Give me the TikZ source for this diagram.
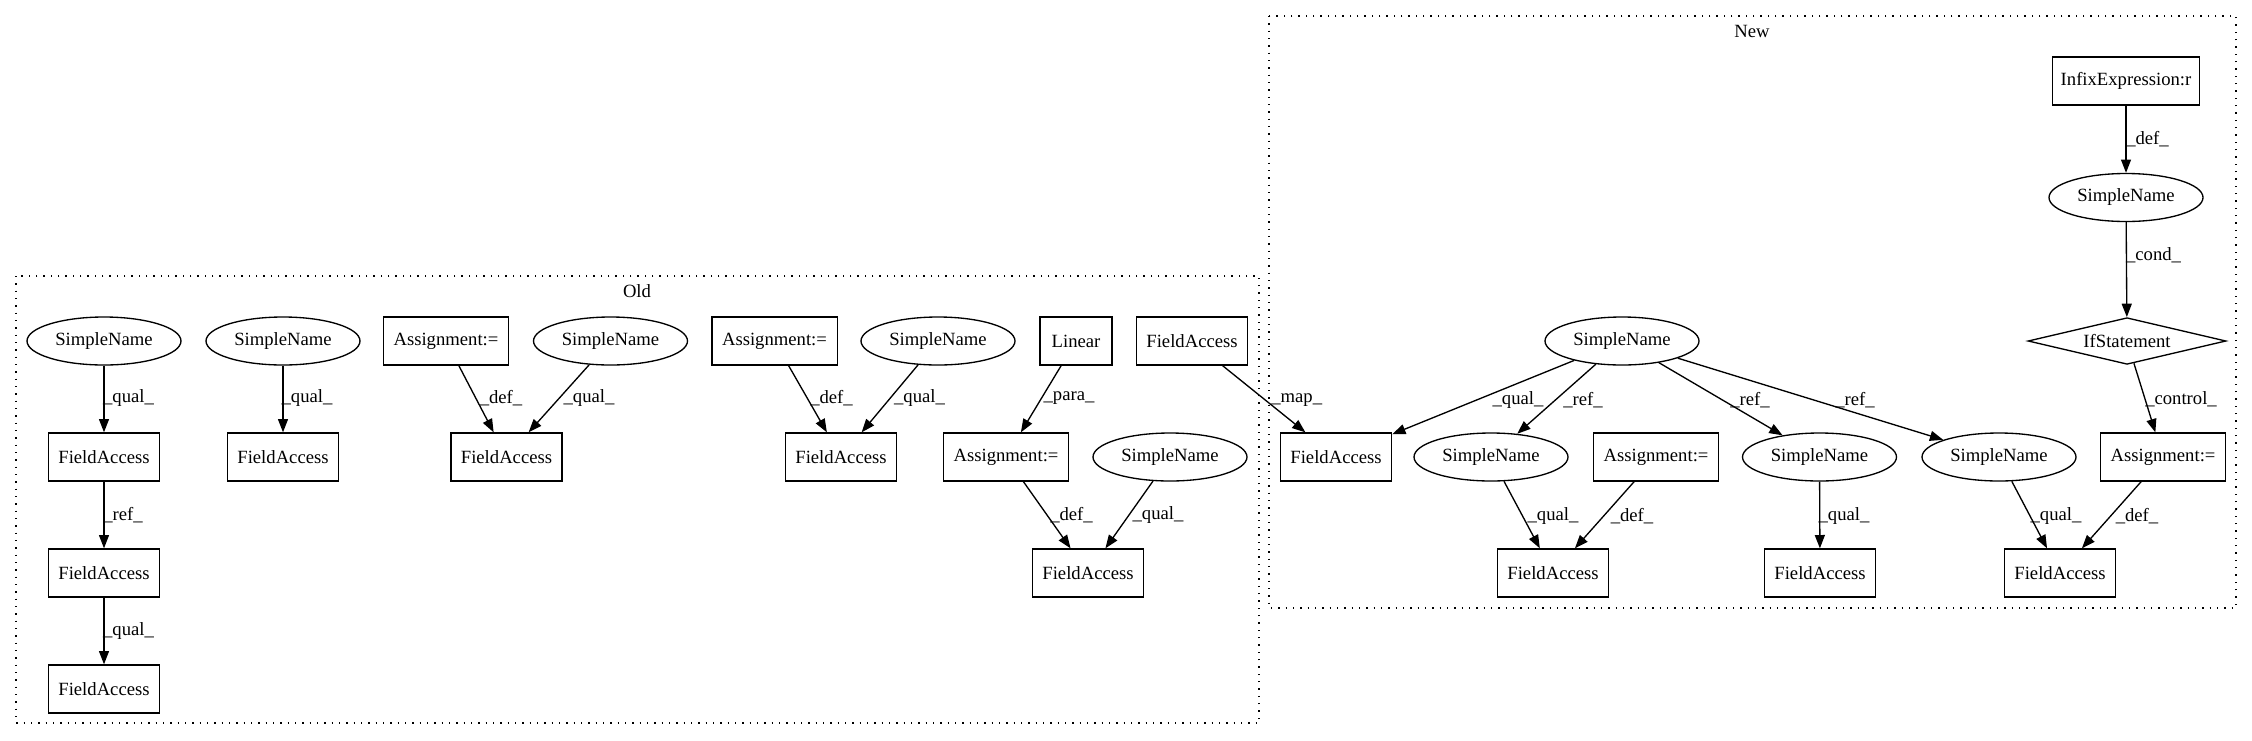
\documentclass[tikz,border=0pt]{standalone}
\usepackage{fontspec}
\setmainfont{Liberation Serif}
\usetikzlibrary{arrows.meta,shapes.geometric}
\tikzset{
  base/.style={draw, line width=1pt, inner sep=0pt, font=\fontsize{14pt}{16pt}\selectfont},
  fbox/.style={base, rectangle, minimum width=83.25pt, minimum height=36pt},
  abox/.style={base, rectangle, minimum width=94pt, minimum height=36pt},
  sname/.style={base, ellipse, minimum width=115.5pt, minimum height=36pt},
  ifdia/.style={base, diamond, aspect=5, minimum width=148.5pt, minimum height=35pt},
  edge/.style={line width=1pt, -{Triangle[length=10pt,width=7.5pt]}},
  lbl/.style={font=\fontsize{14pt}{16pt}\selectfont, inner sep=0pt},
  cluster/.style={line width=1pt, dash pattern=on 1pt off 4.5pt},
  ctitle/.style={font=\fontsize{14pt}{16pt}\selectfont, inner sep=0pt}
}
\begin{document}
\begin{tikzpicture}[x=0.75pt,y=-0.75pt]
\useasboundingbox (0,0) rectangle (2252,740);
% clusters
\draw[cluster] (16,276) rectangle (1259,723);
\node[ctitle] (toldt) at (637,291) {Old};
\draw[cluster] (1269,16) rectangle (2236,608);
\node[ctitle] (tnew) at (1752,31) {New};
% Old nodes
\node[sname] (sn1) at (104,341) {SimpleName};
\node[fbox] (fa1) at (104,457) {FieldAccess};
\node[fbox] (fa2) at (104,573) {FieldAccess};
\node[fbox] (fa3) at (104,689) {FieldAccess};
\node[sname] (sn2) at (283,341) {SimpleName};
\node[fbox] (fa4) at (283,457) {FieldAccess};
\node[abox] (as1) at (446,341) {Assignment:=};
\node[sname] (sn3) at (610.5,341) {SimpleName};
\node[fbox] (fa5) at (506.5,457) {FieldAccess};
\node[abox] (as2) at (774.5,341) {Assignment:=};
\node[sname] (sn4) at (938,341) {SimpleName};
\node[fbox] (fa7) at (841,457) {FieldAccess};
\node[base, rectangle, minimum width=54pt, minimum height=36pt] (lin) at (1076,341) {Linear};
\node[fbox] (fa6) at (1192,341) {FieldAccess};
\node[abox] (as3) at (1006,457) {Assignment:=};
\node[sname] (sn5) at (1170,457) {SimpleName};
\node[fbox] (fa8) at (1088,573) {FieldAccess};
% New nodes
\node[base, rectangle, minimum width=110pt, minimum height=36pt] (inf) at (2126,81) {InfixExpression:r};
\node[sname] (sn6) at (2126,197.5) {SimpleName};
\node[ifdia] (ifs) at (2127,341) {IfStatement};
\node[sname] (sn7) at (1622,341) {SimpleName};
\node[fbox] (fa9) at (1336,457) {FieldAccess};
\node[sname] (sn8) at (1491,457) {SimpleName};
\node[abox] (as4) at (1656,457) {Assignment:=};
\node[sname] (sn9) at (1819.5,457) {SimpleName};
\node[sname] (sn10) at (1999,457) {SimpleName};
\node[abox] (as5) at (2163,457) {Assignment:=};
\node[fbox] (fa10) at (1553,573) {FieldAccess};
\node[fbox] (fa11) at (1820,573) {FieldAccess};
\node[fbox] (fa12) at (2060,573) {FieldAccess};
% Old edges
\draw[edge] (sn1) -- (fa1) node[lbl] at (128.5,398) {\_qual\_};
\draw[edge] (fa1) -- (fa2) node[lbl] at (123,515) {\_ref\_};
\draw[edge] (fa2) -- (fa3) node[lbl] at (128.5,631) {\_qual\_};
\draw[edge] (sn2) -- (fa4) node[lbl] at (307,398) {\_qual\_};
\draw[edge] (as1) -- (fa5) node[lbl] at (501,398) {\_def\_};
\draw[edge] (sn3) -- (fa5) node[lbl] at (589,398) {\_qual\_};
\draw[edge] (as2) -- (fa7) node[lbl] at (831.5,398) {\_def\_};
\draw[edge] (sn4) -- (fa7) node[lbl] at (919.5,398) {\_qual\_};
\draw[edge] (lin) -- (as3) node[lbl] at (1069,398) {\_para\_};
\draw[edge] (as3) -- (fa8) node[lbl] at (1071.5,515) {\_def\_};
\draw[edge] (sn5) -- (fa8) node[lbl] at (1158,515) {\_qual\_};
\draw[edge] (fa6) -- (fa9) node[lbl] at (1296.7,400) {\_map\_};
% New edges
\draw[edge] (inf) -- (sn6) node[lbl] at (2147.5,139) {\_def\_};
\draw[edge] (sn6) -- (ifs) node[lbl] at (2153.5,255) {\_cond\_};
\draw[edge] (ifs) -- (as5) node[lbl] at (2181,399) {\_control\_};
\draw[edge] (sn7) -- (fa9) node[lbl] at (1518,400) {\_qual\_};
\draw[edge] (sn7) -- (sn8) node[lbl] at (1583,400) {\_ref\_};
\draw[edge] (sn7) -- (sn9) node[lbl] at (1750,400) {\_ref\_};
\draw[edge] (sn7) -- (sn10) node[lbl] at (1855,400) {\_ref\_};
\draw[edge] (sn8) -- (fa10) node[lbl] at (1553,516) {\_qual\_};
\draw[edge] (as4) -- (fa10) node[lbl] at (1632,516) {\_def\_};
\draw[edge] (sn9) -- (fa11) node[lbl] at (1844,516) {\_qual\_};
\draw[edge] (sn10) -- (fa12) node[lbl] at (2056,516) {\_qual\_};
\draw[edge] (as5) -- (fa12) node[lbl] at (2137,516) {\_def\_};
\end{tikzpicture}
\end{document}
